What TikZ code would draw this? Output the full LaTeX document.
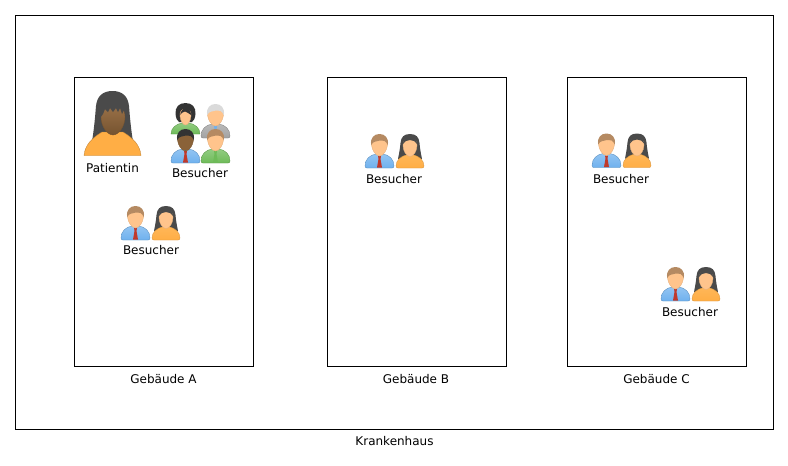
\documentclass[tikz,border=0pt]{standalone}
\usepackage{fontspec}
\setmainfont{DejaVu Sans}
\definecolor{skinL}{HTML}{FFC48C}
\definecolor{skinD}{HTML}{8A6238}
\definecolor{hairB}{HTML}{B58A62}
\definecolor{hairK}{HTML}{4A4A4A}
\definecolor{hairN}{HTML}{333333}
\definecolor{hairW}{HTML}{DADADA}
\definecolor{blueS}{HTML}{6FB1EE}
\definecolor{greenS}{HTML}{6EBB58}
\definecolor{grayS}{HTML}{A2A2A2}
\definecolor{orangeS}{HTML}{FFAE45}
\definecolor{tieR}{HTML}{C0392B}
\tikzset{
  box/.style={draw=black,line width=0.8pt,fill=none,inner sep=0pt},
  lbl/.style={inner sep=0pt,font=\fontsize{12}{14}\selectfont,text=black},
  iconline/.style={line width=0.35pt},
}
\newcommand{\manicon}[6]{% x y skin hair shirt tie
  \begin{scope}[shift={(#1,#2)}]
    \path[iconline,draw=#5!80!black,top color=#5!75!white,bottom color=#5]
      (0,32) .. controls (0,25) and (5,21) .. (11,20) -- (18,20) .. controls (24,21) and (29,25) .. (29,32)
      .. controls (29,33.5) and (28,34) .. (27,34) -- (2,34) .. controls (1,34) and (0,33.5) .. (0,32) -- cycle;
    \fill[#6] (13,22) -- (16,22) -- (15.5,25) -- (17,33.5) -- (12,33.5) -- (13.5,25) -- cycle;
    \path[iconline,draw=#3!90!black,fill=#3]
      (14.5,1.5) .. controls (20,1.5) and (23,6) .. (22.5,11)
      .. controls (22,16) and (18.5,22) .. (14.5,22)
      .. controls (10.5,22) and (7,16) .. (6.5,11)
      .. controls (6,6) and (9,1.5) .. (14.5,1.5) -- cycle;
    \path[fill=#4]
      (6.2,11) .. controls (5,4) and (9,0) .. (14.5,0)
      .. controls (20,0) and (24,4) .. (22.8,11)
      .. controls (21,7) and (18,5.5) .. (15,6.5)
      .. controls (12,7.5) and (8,7) .. (6.2,11) -- cycle;
  \end{scope}}
\newcommand{\womanicon}[2]{% x y
  \begin{scope}[shift={(#1,#2)}]
    \path[fill=hairK]
      (14,0) .. controls (20,0) and (23,3) .. (23.5,9)
      .. controls (24,15) and (25,20) .. (26,25) -- (2,25)
      .. controls (3,20) and (4,15) .. (4.5,9)
      .. controls (5,3) and (8,0) .. (14,0) -- cycle;
    \path[iconline,draw=orangeS!85!black,top color=orangeS!90!white,bottom color=orangeS]
      (0,32) .. controls (0,26) and (5,22.5) .. (10,21) -- (18,21)
      .. controls (23,22.5) and (28,26) .. (28,32)
      .. controls (28,33.5) and (27,34) .. (26,34) -- (2,34)
      .. controls (1,34) and (0,33.5) .. (0,32) -- cycle;
    \path[iconline,draw=skinL!90!black,fill=skinL]
      (14,4) .. controls (18.5,4) and (21,7) .. (21,11.5)
      .. controls (21,17) and (17.5,22.5) .. (14,22.5)
      .. controls (10.5,22.5) and (7,17) .. (7,11.5)
      .. controls (7,7) and (9.5,4) .. (14,4) -- cycle;
    \fill[hairK] (6.8,10) .. controls (7.5,5) and (10,3) .. (14,3)
      .. controls (18,3) and (20.5,5) .. (21.2,10)
      .. controls (19.5,7.5) and (17,6) .. (14,6)
      .. controls (11,6) and (8.5,7.5) .. (6.8,10) -- cycle;
  \end{scope}}
\newcommand{\patienticon}{%
  \path[fill=hairK]
    (112.5,91) .. controls (122,91) and (128,96) .. (129,106)
    .. controls (130,118) and (131,130) .. (133,141) -- (92,141)
    .. controls (94,130) and (95,118) .. (96,106)
    .. controls (97,96) and (103,91) .. (112.5,91) -- cycle;
  \path[iconline,draw=orangeS!75!black,fill=orangeS]
    (84,155.5) .. controls (85,145) and (92,138) .. (102,132) -- (123,132)
    .. controls (133,138) and (140,145) .. (141,155.5) -- cycle;
  \path[iconline,draw=skinD!85!black,top color=skinD!60!hairB,bottom color=skinD!85!black]
    (113,104) .. controls (121,104) and (125,109) .. (125,117)
    .. controls (125,126) and (119,135) .. (113,135)
    .. controls (107,135) and (101,126) .. (101,117)
    .. controls (101,109) and (105,104) .. (113,104) -- cycle;
  \fill[hairK] (100,118) .. controls (100,108) and (105,102) .. (113,102)
    .. controls (121,102) and (126,108) .. (126,118)
    -- (124,110) -- (122,114) -- (120,108) -- (118,112) -- (116,108) -- (113,112)
    -- (110,108) -- (108,112) -- (105,109) -- (103,114) -- cycle;}
\newcommand{\bobicon}[2]{%
  \begin{scope}[shift={(#1,#2)}]
    \path[iconline,draw=greenS!80!black,top color=greenS!75!white,bottom color=greenS]
      (0,31) .. controls (0,25) and (5,21) .. (11,20) -- (18,20)
      .. controls (24,21) and (29,25) .. (29,31) -- (0,31) -- cycle;
    \fill[hairN] (14.5,0) .. controls (21,0) and (25,4) .. (24.5,11)
      .. controls (24,15) and (23,18) .. (21,19) -- (8,19)
      .. controls (6,18) and (5,15) .. (4.5,11)
      .. controls (4,4) and (8,0) .. (14.5,0) -- cycle;
    \path[iconline,draw=skinL!90!black,fill=skinL]
      (14.5,6) .. controls (18.5,6) and (20.5,9) .. (20,13)
      .. controls (19.5,18) and (17,22) .. (14.5,22)
      .. controls (12,22) and (9.5,18) .. (9,13)
      .. controls (8.5,9) and (10.5,6) .. (14.5,6) -- cycle;
    \fill[hairN] (9,12) .. controls (10,7) and (13,5) .. (15,5)
      .. controls (18,5) and (20,8) .. (20,12)
      .. controls (17,10) and (15,8.5) .. (14,8.5)
      .. controls (12,9) and (10,10) .. (9,12) -- cycle;
  \end{scope}}
\newcommand{\pair}[2]{%
  \manicon{#1}{#2}{skinL}{hairB}{blueS}{tieR}
  \womanicon{#1+31}{#2}}
\begin{document}
\begin{tikzpicture}[x=1pt,y=-1pt]
  \useasboundingbox (0,0) rectangle (788,466);
  \fill[white] (0,0) rectangle (788,466);
  \node[box,minimum width=758pt,minimum height=414.6pt,anchor=north west] (haus) at (14.6,14.6) {};
  \node[box,minimum width=179pt,minimum height=289pt,anchor=north west] (gebA) at (73.6,76.6) {};
  \node[box,minimum width=179pt,minimum height=289pt,anchor=north west] (gebB) at (326.6,76.6) {};
  \node[box,minimum width=179pt,minimum height=289pt,anchor=north west] (gebC) at (566.6,76.6) {};

  \node[lbl] (lhaus) at (394.5,441.5) {Krankenhaus};
  \node[lbl] (lgebA) at (163.5,379.5) {Gebäude A};
  \node[lbl] (lgebB) at (416,379.5) {Gebäude B};
  \node[lbl] (lgebC) at (656.5,379.5) {Gebäude C};

  % Patientin
  \patienticon
  \node[lbl] (lpat) at (112.5,168) {Patientin};

  % group of four
  \bobicon{171}{103}
  \manicon{201}{104}{skinL}{hairW}{grayS}{blueS}
  \manicon{171}{129}{skinD}{hairN}{blueS}{tieR}
  \manicon{201}{129}{skinL}{hairB}{greenS}{greenS}
  \node[lbl] (lb0) at (200,173.5) {Besucher};

  \pair{121}{206}
  \node[lbl] (lb1) at (151,250.5) {Besucher};
  \pair{365}{134}
  \node[lbl] (lb2) at (394,179.5) {Besucher};
  \pair{592}{133.5}
  \node[lbl] (lb3) at (621,179.5) {Besucher};
  \pair{661}{267}
  \node[lbl] (lb4) at (690,312.5) {Besucher};
\end{tikzpicture}
\end{document}
